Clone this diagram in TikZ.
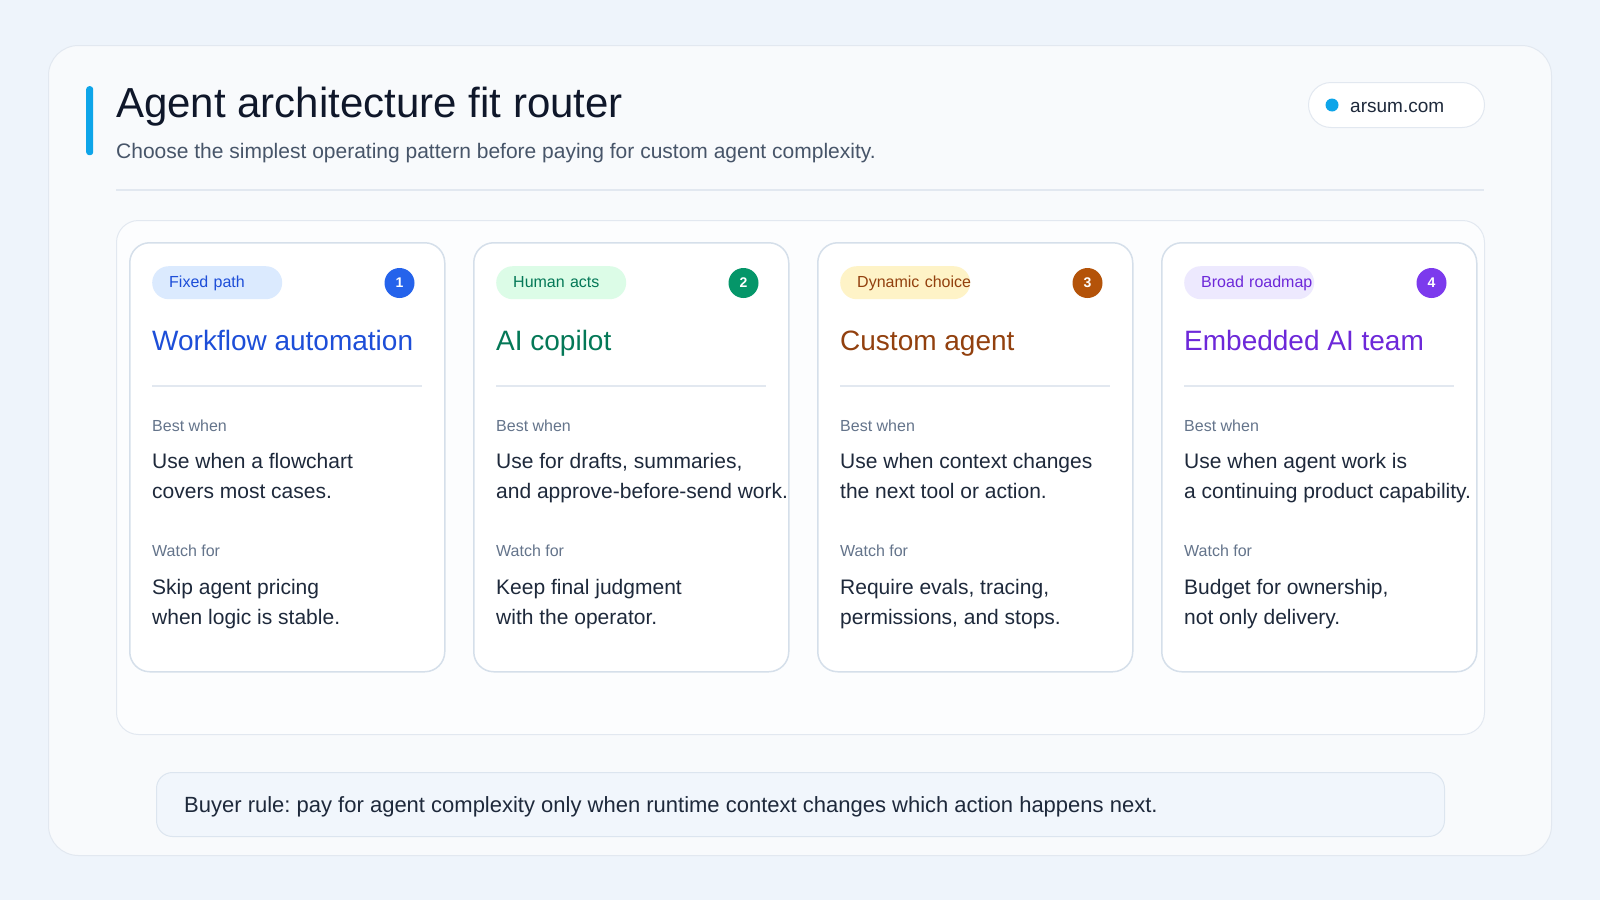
\documentclass[tikz,border=0pt]{standalone}
\usepackage{fontspec}
\setmainfont{Liberation Sans}
\frenchspacing
\usetikzlibrary{positioning}

\definecolor{pagebg}{HTML}{EEF4FB}
\definecolor{shellfill}{HTML}{F8FAFC}
\definecolor{shellline}{HTML}{E2E8F0}
\definecolor{panelfill}{HTML}{FCFDFE}
\definecolor{cardline}{HTML}{D5DFEA}
\definecolor{ruleline}{HTML}{E2E8F0}
\definecolor{accent}{HTML}{0EA5E9}
\definecolor{titlecol}{HTML}{0F172A}
\definecolor{subcol}{HTML}{475569}
\definecolor{labelcol}{HTML}{64748B}
\definecolor{bodycol}{HTML}{1E293B}
\definecolor{notefill}{HTML}{F1F6FC}
\definecolor{noteline}{HTML}{DCE5EF}
\definecolor{bluetag}{HTML}{DBEAFE}
\definecolor{bluetext}{HTML}{1D4ED8}
\definecolor{bluedot}{HTML}{2563EB}
\definecolor{greentag}{HTML}{DCFCE7}
\definecolor{greentext}{HTML}{047857}
\definecolor{greendot}{HTML}{059669}
\definecolor{ambertag}{HTML}{FEF3C7}
\definecolor{ambertext}{HTML}{92400E}
\definecolor{amberdot}{HTML}{B45309}
\definecolor{violettag}{HTML}{EDE9FE}
\definecolor{violettext}{HTML}{6D28D9}
\definecolor{violetdot}{HTML}{7C3AED}

\begin{document}
\begin{tikzpicture}[
        x = 1pt, y = -1pt,
        every node/.style = {inner sep = 0pt},
        card/.style = {
            draw = cardline, line width = 1.5pt, fill = white,
            rounded corners = 20pt,
            minimum width = 315pt, minimum height = 429pt,
            anchor = north west,
        },
        tag/.style = {
            rounded corners = 16.5pt,
            minimum height = 33pt,
            text width = 96pt, inner xsep = 17pt, align = left,
            text height = 13.5pt, text depth = 3.5pt,
            font = \fontsize{16}{19}\selectfont,
            anchor = north west,
        },
        badge/.style = {
            circle, minimum size = 30pt, text = white,
            font = \fontsize{14}{16}\selectfont\bfseries,
        },
        heading/.style = {font = \fontsize{28}{32}\selectfont, anchor = base west},
        smallhead/.style = {font = \fontsize{16}{19}\selectfont, text = labelcol, anchor = base west},
        body/.style = {
            font = \fontsize{21}{30}\selectfont, text = bodycol,
            align = left, anchor = base west,
        },
        divider/.style = {draw = ruleline, line width = 2pt},
        ]

        % Achtergrond
        \useasboundingbox[fill = pagebg] (0,0) rectangle (1600,900);
        \node[draw = shellline, fill = shellfill, line width = 1pt, rounded corners = 30pt,
            minimum width = 1503pt, minimum height = 810pt, anchor = north west] (shell) at (48,45) {};

        % Kop
        \node[fill = accent, rounded corners = 3pt, minimum width = 7pt, minimum height = 69pt,
            anchor = north west] (bar) at (86,86) {};
        \node[font = \fontsize{42}{48}\selectfont, text = titlecol, anchor = base west] (title)
            at (116,117) {Agent architecture fit router};
        \node[font = \fontsize{21}{25}\selectfont, text = subcol, anchor = base west] (subtitle)
            at (116,158) {Choose the simplest operating pattern before paying for custom agent complexity.};
        \node[draw = shellline, fill = white, line width = 1pt, rounded corners = 22.5pt,
            minimum width = 176pt, minimum height = 45pt, anchor = north west] (site) at (1308,82) {};
        \node[circle, fill = accent, minimum size = 13pt] (dot) at ([xshift = 24pt]site.west) {};
        \node[font = \fontsize{19}{22}\selectfont, text = bodycol, anchor = base west] (sitename)
            at (1350,112) {arsum.com};
        \draw[divider] (116,190) -- (1484,190);

        % Paneel
        \node[draw = shellline, fill = panelfill, line width = 1pt, rounded corners = 22pt,
            minimum width = 1368pt, minimum height = 514pt, anchor = north west] (panel) at (116,220) {};

        % Kaart 1
        \node[card] (card1) at (129,242) {};
        \node[tag, fill = bluetag, text = bluetext] (tag1) at ([shift = {(23,24)}]card1.north west) {Fixed path};
        \node[badge, fill = bluedot] (num1) at ([shift = {(-46,41)}]card1.north east) {1};
        \node[heading, text = bluetext] (head1) at ([shift = {(23,108)}]card1.north west) {Workflow automation};
        \draw[divider] ([shift = {(23,144)}]card1.north west) -- ([shift = {(-24,144)}]card1.north east);
        \node[smallhead] (best1) at ([shift = {(23,189)}]card1.north west) {Best when};
        \node[body] (use1) at ([shift = {(23,256)}]card1.north west) {Use when a flowchart\\covers most cases.};
        \node[smallhead] (watch1) at ([shift = {(23,314)}]card1.north west) {Watch for};
        \node[body] (risk1) at ([shift = {(23,382)}]card1.north west) {Skip agent pricing\\when logic is stable.};

        % Kaart 2
        \node[card] (card2) at (473,242) {};
        \node[tag, fill = greentag, text = greentext] (tag2) at ([shift = {(23,24)}]card2.north west) {Human acts};
        \node[badge, fill = greendot] (num2) at ([shift = {(-46,41)}]card2.north east) {2};
        \node[heading, text = greentext] (head2) at ([shift = {(23,108)}]card2.north west) {AI copilot};
        \draw[divider] ([shift = {(23,144)}]card2.north west) -- ([shift = {(-24,144)}]card2.north east);
        \node[smallhead] (best2) at ([shift = {(23,189)}]card2.north west) {Best when};
        \node[body] (use2) at ([shift = {(23,256)}]card2.north west) {Use for drafts, summaries,\\and approve-before-send work.};
        \node[smallhead] (watch2) at ([shift = {(23,314)}]card2.north west) {Watch for};
        \node[body] (risk2) at ([shift = {(23,382)}]card2.north west) {Keep final judgment\\with the operator.};

        % Kaart 3
        \node[card] (card3) at (817,242) {};
        \node[tag, fill = ambertag, text = ambertext] (tag3) at ([shift = {(23,24)}]card3.north west) {\mbox{Dynamic choice}};
        \node[badge, fill = amberdot] (num3) at ([shift = {(-46,41)}]card3.north east) {3};
        \node[heading, text = ambertext] (head3) at ([shift = {(23,108)}]card3.north west) {Custom agent};
        \draw[divider] ([shift = {(23,144)}]card3.north west) -- ([shift = {(-24,144)}]card3.north east);
        \node[smallhead] (best3) at ([shift = {(23,189)}]card3.north west) {Best when};
        \node[body] (use3) at ([shift = {(23,256)}]card3.north west) {Use when context changes\\the next tool or action.};
        \node[smallhead] (watch3) at ([shift = {(23,314)}]card3.north west) {Watch for};
        \node[body] (risk3) at ([shift = {(23,382)}]card3.north west) {Require evals, tracing,\\permissions, and stops.};

        % Kaart 4
        \node[card] (card4) at (1161,242) {};
        \node[tag, fill = violettag, text = violettext] (tag4) at ([shift = {(23,24)}]card4.north west) {\mbox{Broad roadmap}};
        \node[badge, fill = violetdot] (num4) at ([shift = {(-46,41)}]card4.north east) {4};
        \node[heading, text = violettext] (head4) at ([shift = {(23,108)}]card4.north west) {Embedded AI team};
        \draw[divider] ([shift = {(23,144)}]card4.north west) -- ([shift = {(-24,144)}]card4.north east);
        \node[smallhead] (best4) at ([shift = {(23,189)}]card4.north west) {Best when};
        \node[body] (use4) at ([shift = {(23,256)}]card4.north west) {Use when agent work is\\a continuing product capability.};
        \node[smallhead] (watch4) at ([shift = {(23,314)}]card4.north west) {Watch for};
        \node[body] (risk4) at ([shift = {(23,382)}]card4.north west) {Budget for ownership,\\not only delivery.};

        % Regel
        \node[draw = noteline, fill = notefill, line width = 1pt, rounded corners = 16pt,
            minimum width = 1288pt, minimum height = 64pt, anchor = north west] (note) at (156,772) {};
        \node[font = \fontsize{22}{26}\selectfont, text = bodycol, anchor = base west] (rule)
            at (184,812) {Buyer rule: pay for agent complexity only when runtime context changes which action happens next.};
\end{tikzpicture}
\end{document}
